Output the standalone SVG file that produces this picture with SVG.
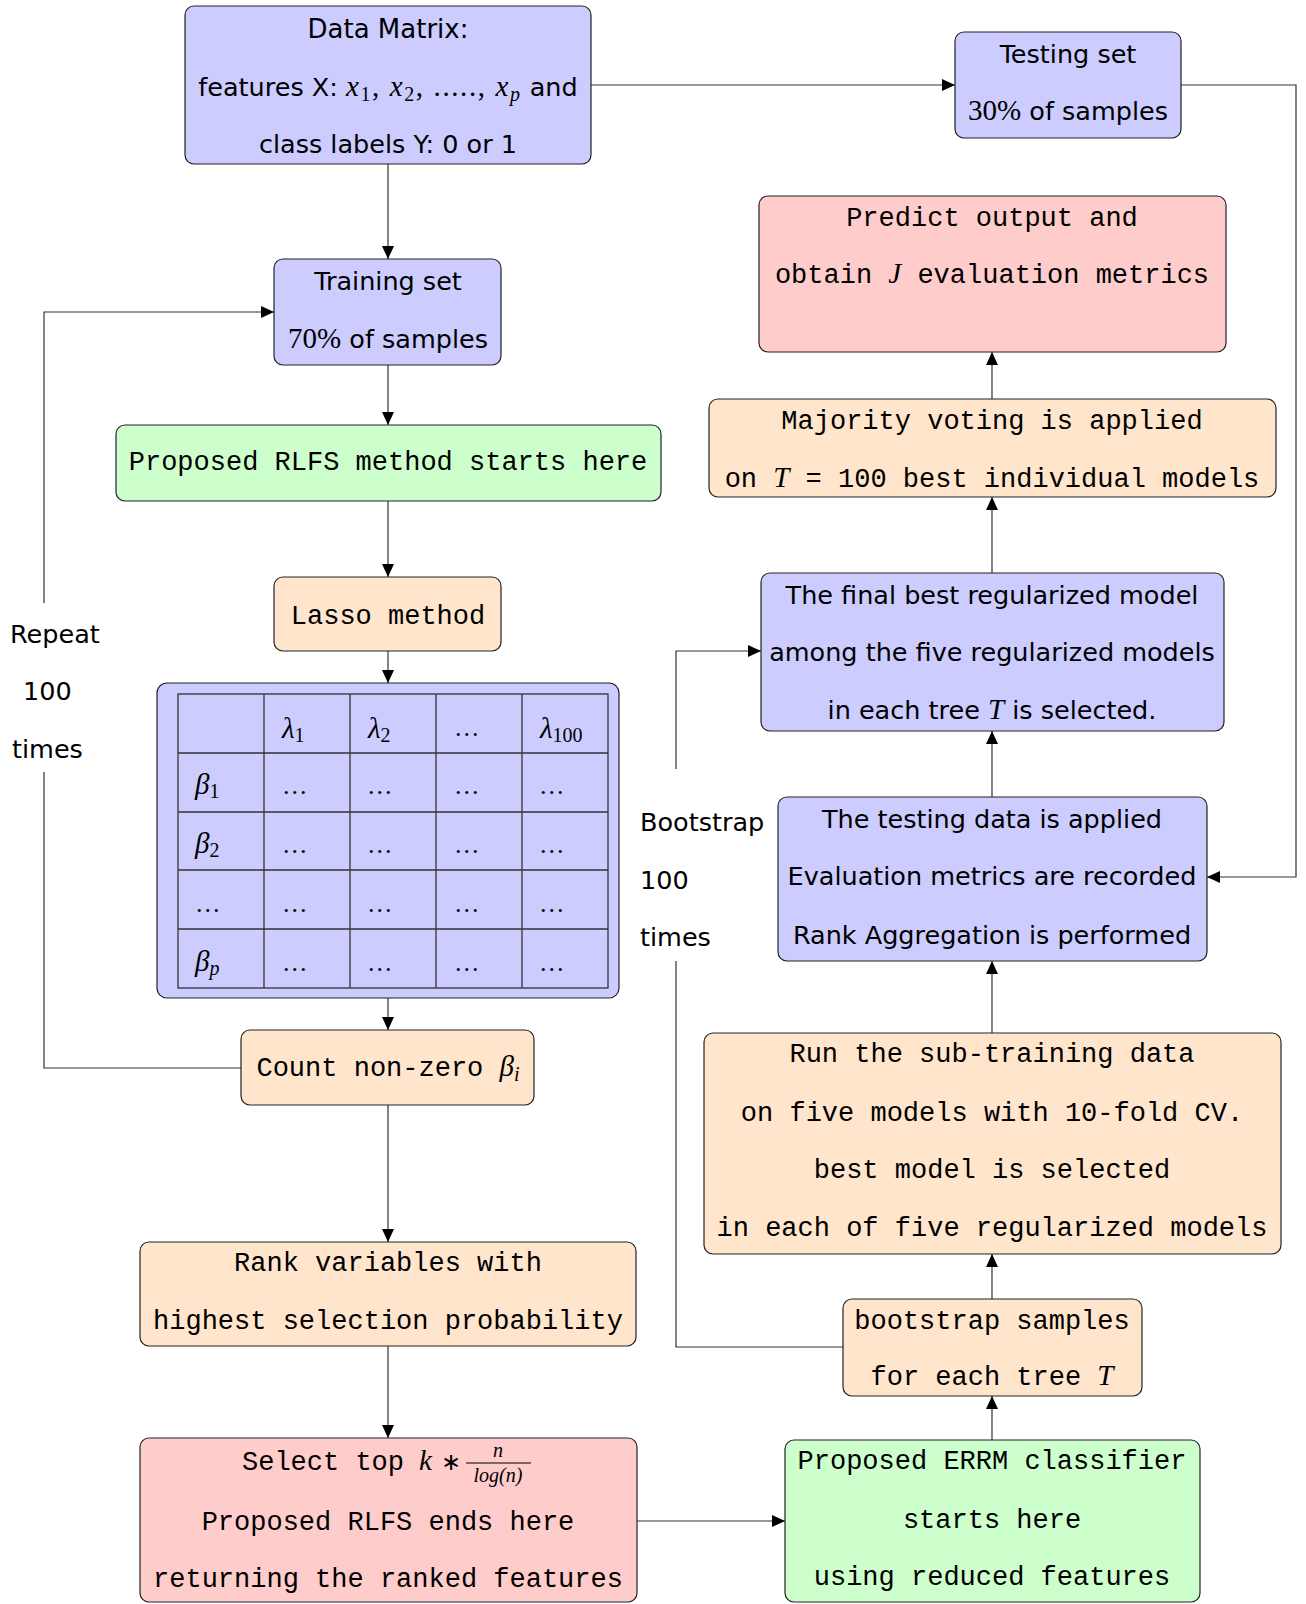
<svg xmlns="http://www.w3.org/2000/svg" width="1306" height="1604" viewBox="0 0 1306 1604">
<style>
.box{stroke:#222;stroke-width:1.2}
.blue{fill:#ccccff}
.peach{fill:#ffe5cc}
.green{fill:#ccffcc}
.red{fill:#ffcccc}
.s{font-family:"DejaVu Sans",sans-serif;font-size:25.5px;fill:#000}
.m{font-family:"Liberation Mono",monospace;font-size:27px;fill:#000}
.mi{font-family:"Liberation Serif",serif;font-style:italic;font-size:29px}
.mr{font-family:"Liberation Serif",serif;font-style:normal;font-size:29px}
.sub{font-family:"Liberation Serif",serif;font-style:normal;font-size:20px}
.subi{font-family:"Liberation Serif",serif;font-style:italic;font-size:20px}
.sp{letter-spacing:1.6px}
.c{text-anchor:middle}
.ln{fill:none;stroke:#333;stroke-width:1.2}
.grid{fill:none;stroke:#333;stroke-width:1.3}
.dots{font-family:"Liberation Serif",serif;font-size:26px;letter-spacing:2px}
</style>
<defs>
<marker id="ah" viewBox="0 0 13 12" refX="13" refY="6" markerWidth="13" markerHeight="12" markerUnits="userSpaceOnUse" orient="auto"><path d="M0,0 L13,6 L0,12 z" fill="#000"/></marker>
</defs>

<g id="connectors">
<line class="ln" x1="388" y1="164" x2="388" y2="259" marker-end="url(#ah)"/>
<line class="ln" x1="591" y1="85" x2="955" y2="85" marker-end="url(#ah)"/>
<polyline class="ln" points="1181,85 1296,85 1296,877 1207,877" marker-end="url(#ah)"/>
<line class="ln" x1="388" y1="365" x2="388" y2="425" marker-end="url(#ah)"/>
<line class="ln" x1="388" y1="501" x2="388" y2="577" marker-end="url(#ah)"/>
<line class="ln" x1="388" y1="651" x2="388" y2="683" marker-end="url(#ah)"/>
<line class="ln" x1="388" y1="998" x2="388" y2="1030" marker-end="url(#ah)"/>
<line class="ln" x1="388" y1="1105" x2="388" y2="1242" marker-end="url(#ah)"/>
<line class="ln" x1="388" y1="1346" x2="388" y2="1438" marker-end="url(#ah)"/>
<polyline class="ln" points="241,1068 44,1068 44,772"/>
<polyline class="ln" points="44,603 44,312 274,312" marker-end="url(#ah)"/>
<line class="ln" x1="637" y1="1521" x2="785" y2="1521" marker-end="url(#ah)"/>
<line class="ln" x1="992" y1="1440" x2="992" y2="1396" marker-end="url(#ah)"/>
<line class="ln" x1="992" y1="1299" x2="992" y2="1254" marker-end="url(#ah)"/>
<line class="ln" x1="992" y1="1033" x2="992" y2="961" marker-end="url(#ah)"/>
<line class="ln" x1="992" y1="797" x2="992" y2="731" marker-end="url(#ah)"/>
<line class="ln" x1="992" y1="573" x2="992" y2="497" marker-end="url(#ah)"/>
<line class="ln" x1="992" y1="399" x2="992" y2="352" marker-end="url(#ah)"/>
<polyline class="ln" points="843,1347 676,1347 676,961"/>
<polyline class="ln" points="676,769 676,651 761,651" marker-end="url(#ah)"/>
</g>

<g id="repeat-label">
<text class="s" x="10" y="643">Repeat</text>
<text class="s" x="23" y="700">100</text>
<text class="s" x="12" y="758">times</text>
</g>
<g id="bootstrap-label">
<text class="s" x="640" y="831">Bootstrap</text>
<text class="s" x="640" y="889">100</text>
<text class="s" x="640" y="946">times</text>
</g>

<g id="data-matrix">
<rect class="box blue" x="185" y="6" width="406" height="158" rx="9"/>
<text class="s c" x="388" y="38" style="font-size:26px">Data Matrix:</text>
<text class="s c" x="388" y="96">features X: <tspan class="mi sp">x</tspan><tspan class="sub sp" dy="5">1</tspan><tspan class="mr sp" dy="-5">, </tspan><tspan class="mi sp">x</tspan><tspan class="sub sp" dy="5">2</tspan><tspan class="mr sp" dy="-5">, ....., </tspan><tspan class="mi sp">x</tspan><tspan class="subi sp" dy="5">p</tspan><tspan dy="-5"> and</tspan></text>
<text class="s c" x="388" y="153">class labels Y: 0 or 1</text>
</g>

<g id="testing-set">
<rect class="box blue" x="955" y="32" width="226" height="106" rx="9"/>
<text class="s c" x="1068" y="63">Testing set</text>
<text class="s c" x="1068" y="120"><tspan class="mr">30%</tspan> of samples</text>
</g>

<g id="training-set">
<rect class="box blue" x="274" y="259" width="227" height="106" rx="9"/>
<text class="s c" x="388" y="290">Training set</text>
<text class="s c" x="388" y="348"><tspan class="mr">70%</tspan> of samples</text>
</g>

<g id="rlfs-start">
<rect class="box green" x="116" y="425" width="545" height="76" rx="9"/>
<text class="m c" x="388" y="470">Proposed RLFS method starts here</text>
</g>

<g id="lasso">
<rect class="box peach" x="274" y="577" width="227" height="74" rx="9"/>
<text class="m c" x="388" y="624">Lasso method</text>
</g>

<g id="coef-table">
<rect class="box blue" x="157" y="683" width="462" height="315" rx="10"/>
<rect class="grid" x="178" y="694" width="430" height="294"/>
<line class="grid" x1="264" y1="694" x2="264" y2="988"/>
<line class="grid" x1="350" y1="694" x2="350" y2="988"/>
<line class="grid" x1="436" y1="694" x2="436" y2="988"/>
<line class="grid" x1="522" y1="694" x2="522" y2="988"/>
<line class="grid" x1="178" y1="753" x2="608" y2="753"/>
<line class="grid" x1="178" y1="812" x2="608" y2="812"/>
<line class="grid" x1="178" y1="870" x2="608" y2="870"/>
<line class="grid" x1="178" y1="929" x2="608" y2="929"/>
<text x="282" y="738"><tspan class="mi">λ</tspan><tspan class="sub" dy="4">1</tspan></text>
<text x="368" y="738"><tspan class="mi">λ</tspan><tspan class="sub" dy="4">2</tspan></text>
<text class="dots" x="455" y="736">...</text>
<text x="540" y="738"><tspan class="mi">λ</tspan><tspan class="sub" dy="4">100</tspan></text>
<text x="195" y="794"><tspan class="mi">β</tspan><tspan class="sub" dy="4">1</tspan></text>
<text x="195" y="853"><tspan class="mi">β</tspan><tspan class="sub" dy="4">2</tspan></text>
<text class="dots" x="196" y="912">...</text>
<text x="195" y="971"><tspan class="mi">β</tspan><tspan class="subi" dy="4">p</tspan></text>
<text class="dots" x="283" y="794">...</text><text class="dots" x="368" y="794">...</text><text class="dots" x="455" y="794">...</text><text class="dots" x="540" y="794">...</text>
<text class="dots" x="283" y="853">...</text><text class="dots" x="368" y="853">...</text><text class="dots" x="455" y="853">...</text><text class="dots" x="540" y="853">...</text>
<text class="dots" x="283" y="912">...</text><text class="dots" x="368" y="912">...</text><text class="dots" x="455" y="912">...</text><text class="dots" x="540" y="912">...</text>
<text class="dots" x="283" y="971">...</text><text class="dots" x="368" y="971">...</text><text class="dots" x="455" y="971">...</text><text class="dots" x="540" y="971">...</text>
</g>

<g id="count-nonzero">
<rect class="box peach" x="241" y="1030" width="293" height="75" rx="9"/>
<text class="m c" x="388" y="1076">Count non-zero <tspan class="mi">β</tspan><tspan class="subi" dy="5">i</tspan></text>
</g>

<g id="rank-variables">
<rect class="box peach" x="140" y="1242" width="496" height="104" rx="9"/>
<text class="m c" x="388" y="1271">Rank variables with</text>
<text class="m c" x="388" y="1329">highest selection probability</text>
</g>

<g id="select-top">
<rect class="box red" x="140" y="1438" width="497" height="164" rx="9"/>
<text class="m" x="242" y="1470">Select top</text>
<text class="mi" x="419" y="1470">k</text>
<text x="441" y="1470" style="font-family:'DejaVu Sans',sans-serif;font-size:24px">∗</text>
<text class="subi c" x="498" y="1457">n</text>
<line x1="466" y1="1463" x2="531" y2="1463" stroke="#000" stroke-width="1"/>
<text class="subi c" x="498" y="1482">log(n)</text>
<text class="m c" x="388" y="1530">Proposed RLFS ends here</text>
<text class="m c" x="388" y="1587">returning the ranked features</text>
</g>

<g id="errm-start">
<rect class="box green" x="785" y="1440" width="415" height="162" rx="9"/>
<text class="m c" x="992" y="1469">Proposed ERRM classifier</text>
<text class="m c" x="992" y="1528">starts here</text>
<text class="m c" x="992" y="1585">using reduced features</text>
</g>

<g id="bootstrap-samples">
<rect class="box peach" x="843" y="1299" width="299" height="97" rx="9"/>
<text class="m c" x="992" y="1329">bootstrap samples</text>
<text class="m c" x="992" y="1385">for each tree <tspan class="mi">T</tspan></text>
</g>

<g id="run-subtraining">
<rect class="box peach" x="704" y="1033" width="577" height="221" rx="9"/>
<text class="m c" x="992" y="1062">Run the sub-training data</text>
<text class="m c" x="992" y="1121">on five models with 10-fold CV.</text>
<text class="m c" x="992" y="1178">best model is selected</text>
<text class="m c" x="992" y="1236">in each of five regularized models</text>
</g>

<g id="testing-applied">
<rect class="box blue" x="778" y="797" width="429" height="164" rx="9"/>
<text class="s c" x="992" y="828">The testing data is applied</text>
<text class="s c" x="992" y="885">Evaluation metrics are recorded</text>
<text class="s c" x="992" y="944">Rank Aggregation is performed</text>
</g>

<g id="final-best">
<rect class="box blue" x="761" y="573" width="463" height="158" rx="9"/>
<text class="s c" x="992" y="604">The final best regularized model</text>
<text class="s c" x="992" y="661">among the five regularized models</text>
<text class="s c" x="992" y="719">in each tree <tspan class="mi">T</tspan> is selected.</text>
</g>

<g id="majority-voting">
<rect class="box peach" x="709" y="399" width="567" height="98" rx="9"/>
<text class="m c" x="992" y="429">Majority voting is applied</text>
<text class="m c" x="992" y="487">on <tspan class="mi">T</tspan> = 100 best individual models</text>
</g>

<g id="predict-output">
<rect class="box red" x="759" y="196" width="467" height="156" rx="9"/>
<text class="m c" x="992" y="226">Predict output and</text>
<text class="m c" x="992" y="283">obtain <tspan class="mi">J</tspan> evaluation metrics</text>
</g>
</svg>
